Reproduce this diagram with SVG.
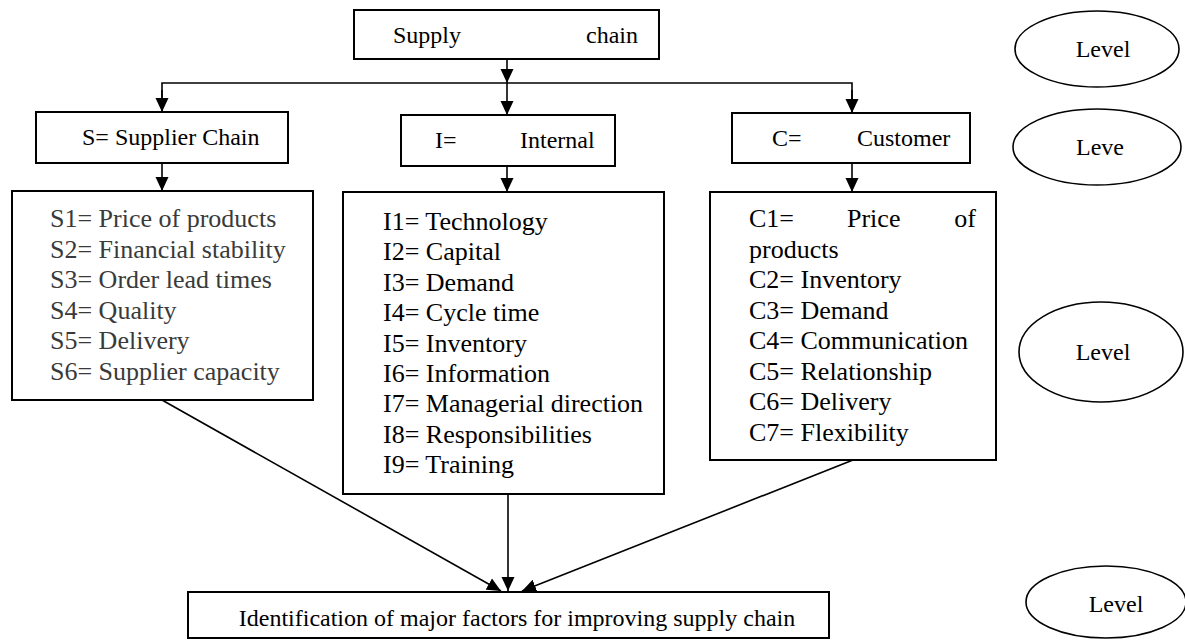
<svg xmlns="http://www.w3.org/2000/svg" width="1185" height="640" viewBox="0 0 1185 640">
<style>
.box{fill:#fff;stroke:#000;stroke-width:2}
.ell{fill:#fff;stroke:#000;stroke-width:1.6}
.hd{font-family:"Liberation Serif","Times New Roman",serif;font-size:24px;fill:#000}
.ls{font-family:"Liberation Serif","Times New Roman",serif;font-size:26px;fill:#000}
.gr{fill:#3a3a3a}
.ln{fill:none;stroke:#000;stroke-width:1.6}
</style>
<defs>
<marker id="ah" markerUnits="userSpaceOnUse" markerWidth="14" markerHeight="14" refX="14" refY="6.5" orient="auto" viewBox="0 0 14 13">
<path d="M0,0 L14,6.5 L0,13 z" fill="#000"/>
</marker>
</defs>
<g id="connectors">
<path class="ln" d="M507,59 V83" marker-end="url(#ah)"/>
<path class="ln" d="M162,112 V83 H852 V113"/>
<path class="ln" d="M162,90 V112" marker-end="url(#ah)"/>
<path class="ln" d="M507,83 V115" marker-end="url(#ah)"/>
<path class="ln" d="M852,90 V113" marker-end="url(#ah)"/>
<path class="ln" d="M162,163 V191" marker-end="url(#ah)"/>
<path class="ln" d="M507,166 V192" marker-end="url(#ah)"/>
<path class="ln" d="M852,163 V192" marker-end="url(#ah)"/>
<path class="ln" d="M162,400 L501,591" marker-end="url(#ah)"/>
<path class="ln" d="M508,494 V591" marker-end="url(#ah)"/>
<path class="ln" d="M853,460 L522,591" marker-end="url(#ah)"/>
</g>
<g id="supply-chain">
<rect class="box" x="354" y="10" width="305" height="49"/>
<text class="hd" x="393" y="43">Supply</text>
<text class="hd" x="638" y="43" text-anchor="end">chain</text>
</g>
<g id="s-head">
<rect class="box" x="36" y="112" width="252" height="51"/>
<text class="hd" x="82" y="145">S= Supplier Chain</text>
</g>
<g id="i-head">
<rect class="box" x="401" y="115" width="214" height="51"/>
<text class="hd" x="435" y="148">I=</text>
<text class="hd" x="520" y="148">Internal</text>
</g>
<g id="c-head">
<rect class="box" x="732" y="113" width="238" height="50"/>
<text class="hd" x="772" y="146">C=</text>
<text class="hd" x="857" y="146">Customer</text>
</g>
<g id="s-list">
<rect class="box" x="12" y="191" width="301" height="209"/>
<text class="ls gr" x="50" y="227">S1= Price of products</text>
<text class="ls gr" x="50" y="257.5">S2= Financial stability</text>
<text class="ls gr" x="50" y="288">S3= Order lead times</text>
<text class="ls gr" x="50" y="318.5">S4= Quality</text>
<text class="ls gr" x="50" y="349">S5= Delivery</text>
<text class="ls gr" x="50" y="379.5">S6= Supplier capacity</text>
</g>
<g id="i-list">
<rect class="box" x="343" y="192" width="321" height="302"/>
<text class="ls" x="383" y="230">I1= Technology</text>
<text class="ls" x="383" y="260.4">I2= Capital</text>
<text class="ls" x="383" y="290.8">I3= Demand</text>
<text class="ls" x="383" y="321.2">I4= Cycle time</text>
<text class="ls" x="383" y="351.6">I5= Inventory</text>
<text class="ls" x="383" y="382">I6= Information</text>
<text class="ls" x="383" y="412.4">I7= Managerial direction</text>
<text class="ls" x="383" y="442.8">I8= Responsibilities</text>
<text class="ls" x="383" y="473.2">I9= Training</text>
</g>
<g id="c-list">
<rect class="box" x="710" y="192" width="286" height="268"/>
<text class="ls" x="749" y="227">C1=</text>
<text class="ls" x="847" y="227">Price</text>
<text class="ls" x="976" y="227" text-anchor="end">of</text>
<text class="ls" x="749" y="257.5">products</text>
<text class="ls" x="749" y="288">C2= Inventory</text>
<text class="ls" x="749" y="318.5">C3= Demand</text>
<text class="ls" x="749" y="349">C4= Communication</text>
<text class="ls" x="749" y="379.5">C5= Relationship</text>
<text class="ls" x="749" y="410">C6= Delivery</text>
<text class="ls" x="749" y="440.5">C7= Flexibility</text>
</g>
<g id="result">
<rect class="box" x="188" y="592" width="641" height="46"/>
<text class="hd" x="517" y="626" text-anchor="middle">Identification of major factors for improving supply chain</text>
</g>
<g id="level-1">
<ellipse class="ell" cx="1097" cy="49" rx="82" ry="38"/>
<text class="hd" x="1103" y="57" text-anchor="middle">Level</text>
</g>
<g id="level-2">
<ellipse class="ell" cx="1097" cy="147" rx="84" ry="38"/>
<text class="hd" x="1100" y="155" text-anchor="middle">Leve</text>
</g>
<g id="level-3">
<ellipse class="ell" cx="1101" cy="352" rx="82" ry="50"/>
<text class="hd" x="1103" y="360" text-anchor="middle">Level</text>
</g>
<g id="level-4">
<ellipse class="ell" cx="1106" cy="602" rx="80" ry="36"/>
<text class="hd" x="1116" y="612" text-anchor="middle">Level</text>
</g>
</svg>
